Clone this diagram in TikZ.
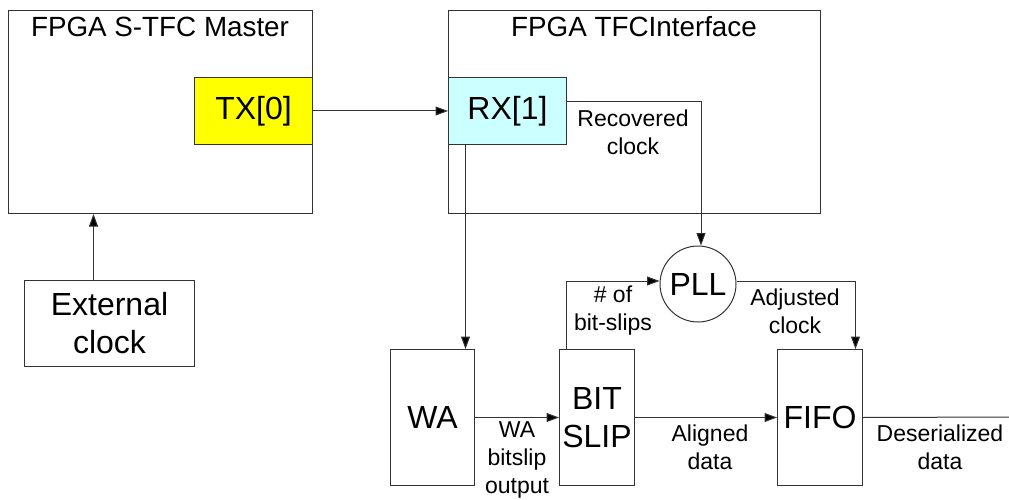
\documentclass[tikz,border=0pt]{standalone}
\usepackage{fontspec}
\setmainfont{Liberation Sans}
\usetikzlibrary{arrows.meta}
\definecolor{txfill}{HTML}{FFFF00}
\definecolor{rxfill}{HTML}{CCFFFF}
\definecolor{edge}{HTML}{333333}
\newcommand{\bigtxt}{\fontsize{32}{38}\selectfont}
\newcommand{\titletxt}{\fontsize{27.8}{33}\selectfont}
\newcommand{\smalltxt}{\fontsize{23}{28}\selectfont}
\tikzset{
  block/.style={draw=edge, line width=1pt, anchor=north west, inner sep=0pt, font=\bigtxt, align=center},
  ttl/.style={font=\titletxt, inner sep=0pt},
  lbl/.style={font=\smalltxt, align=center, inner sep=0pt},
  wire/.style={draw=edge, line width=1pt},
  arr/.style={wire, -{Triangle[length=12.5pt,width=9pt,fill=black]}},
}
\begin{document}
\begin{tikzpicture}[x=1pt,y=-1pt]
\useasboundingbox (0,0) rectangle (1009,500);

% FPGA boards
\node[block, minimum width=304pt, minimum height=203pt] (master) at (8,10) {};
\node[ttl] (mastertitle) at (160,27) {FPGA S-TFC Master};
\node[block, minimum width=372pt, minimum height=203pt] (iface) at (448,10) {};
\node[ttl] (ifacetitle) at (634,27) {FPGA TFCInterface};

% Transceivers
\node[block, fill=txfill, minimum width=118pt, minimum height=67pt] (tx) at (194,77) {TX[0]};
\node[block, fill=rxfill, minimum width=118pt, minimum height=67pt] (rx) at (448,77) {RX[1]};

% Clock source
\node[block, minimum width=170pt, minimum height=86pt] (ext) at (24,280) {External\\clock};

% Receive chain
\node[block, minimum width=84pt, minimum height=136pt] (wa) at (390,349) {WA};
\node[block, minimum width=75pt, minimum height=136pt] (bitslip) at (559,349) {BIT\\SLIP};
\node[block, minimum width=85pt, minimum height=136pt] (fifo) at (777,349) {FIFO};
\node[circle, draw=edge, line width=1pt, minimum size=76pt, inner sep=0pt, font=\bigtxt] (pll) at (698,284) {PLL};
\coordinate (out) at (1009,417);

% Connections
\draw[arr] (tx.east) -- (rx.west);
\draw[arr] ([xshift=-16pt]ext.north) -- ([xshift=-16pt]ext.north |- master.south);
\draw[arr] ([yshift=9pt]rx.east) -| ([xshift=3pt]pll.north);
\draw[arr] ([xshift=-42pt]rx.south) -- ([xshift=-42pt]rx.south |- wa.north);
\draw[arr] (wa.east) -- (bitslip.west);
\draw[arr] ([xshift=-30.5pt]bitslip.north) |- ([yshift=3pt]pll.west);
\draw[arr] ([yshift=3pt]pll.east) -| ([xshift=35.5pt]fifo.north);
\draw[arr] (bitslip.east) -- (fifo.west);
\draw[wire] (fifo.east) -- (out);

% Signal labels
\node[lbl] (lrec) at (633,132) {Recovered\\clock};
\node[lbl] (lwa) at (517,460) {WA\\bitslip\\output};
\node[lbl] (lslips) at (613,311) {\# of\\bit-slips};
\node[lbl] (ladj) at (795,311) {Adjusted\\clock};
\node[lbl] (lalign) at (710,447) {Aligned\\data};
\node[lbl] (ldes) at (940,447) {Deserialized\\data};
\end{tikzpicture}
\end{document}
